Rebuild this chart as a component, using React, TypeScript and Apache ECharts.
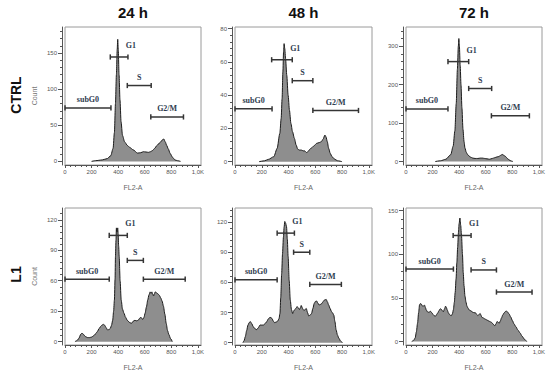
import React, { useEffect, useRef } from "react";
import * as echarts from "echarts";

// ---------- text ----------
const COLUMN_TITLES = ["24 h", "48 h", "72 h"];
const ROW_TITLES = ["CTRL", "L1"];
const X_NAME = "FL2-A";
const Y_NAME = "Count";

// ---------- x axis ----------
const X_MIN = 0;
const X_MAX = 1024;
const X_TICKS = [0, 200, 400, 600, 800, 1000];
const X_MINOR_STEP = 40;

// ---------- y axes (per panel: CTRL 24h, 48h, 72h, L1 24h, 48h, 72h) ----------
const Y_MINS = [-5, -2, -9, -3.3, -2.3, -4];
const Y_MAXS = [186, 81, 350, 131.6, 134, 153];
const Y_TICKS = [
  [0, 50, 100, 150],
  [0, 20, 40, 60, 80],
  [0, 100, 200, 300],
  [0, 30, 60, 90, 120],
  [0, 30, 60, 90, 120],
  [0, 50, 100, 150],
];
const Y_MINOR_STEPS = [10, 4, 20, 6, 6, 10];

// ---------- histograms [FL2-A, count] ----------
const ctrl24 = [[200,0],[230,1],[280,2],[320,4],[345,8],[362,18],[372,40],[380,80],[387,120],[393,155],[397,169],[401,155],[407,120],[414,85],[422,55],[433,36],[449,27],[470,22],[490,19],[513,16],[546,11.5],[570,12],[590,13.4],[610,13],[628,12.5],[645,13.5],[659,15],[675,18],[692,22],[715,26],[735,30],[744,31],[755,27],[766,22],[777,17.5],[792,11],[808,6],[828,2],[846,1],[870,0]];
const ctrl48 = [[180,0],[220,0.5],[250,1.4],[290,3],[315,8],[335,17],[345,26],[352,38],[358,54],[363,66],[367,71],[372,68],[378,62],[387,52],[397,40],[407,31],[418,23],[430,18],[444,14],[457,10],[469,7.5],[482,7],[495,7],[510,6.5],[520,6.5],[535,5.5],[545,6],[560,7.5],[575,8.5],[590,9.5],[610,11],[630,11.5],[645,12],[658,13.5],[672,16],[680,15],[690,12],[700,8],[712,5],[725,3],[745,1.5],[765,0.6],[800,0]];
const ctrl72 = [[220,0],[260,2],[300,6],[337,18],[355,40],[368,80],[378,150],[387,240],[394,300],[398,320],[402,300],[408,250],[414,200],[421,140],[429,84],[437,52],[444,35],[454,24],[464,18],[483,12],[503,9],[520,8],[541,8],[560,9],[575,9],[592,8],[610,7],[630,6],[650,8],[668,10],[685,12],[699,13],[712,16],[724,18.5],[737,16],[750,13],[763,8],[776,4.4],[790,1.5],[805,0]];
const l1_24 = [[75,0],[90,1],[103,3],[120,7.5],[128,8.5],[136,7.5],[154,5],[170,4],[185,4],[200,4.5],[218,6],[232,8],[244,10],[257,13],[269,15],[280,16.5],[290,17],[300,16],[308,14],[321,11.5],[333,12],[341,13],[350,16],[359,21],[366,30],[372,41],[377,62],[380,84],[384,100],[387,112],[391,108],[394,110],[397,112],[400,106],[404,94],[408,84],[415,60],[423,41],[433,32],[444,28],[456,24],[469,21],[485,19],[500,18],[513,20],[526,21],[540,20.5],[551,21],[562,23],[572,24],[580,22.5],[587,22],[595,24],[603,28],[613,34],[623,41],[632,46],[641,49],[648,47.5],[654,49],[660,47],[667,45],[673,47],[679,49],[690,48],[700,47],[711,45.5],[721,43],[731,40],[741,35],[752,27],[762,18],[772,11],[782,7],[795,3],[808,0]];
const l1_48 = [[59,0],[68,2],[77,6],[87,12],[97,17.6],[106,20],[115,21],[125,19],[136,16],[148,14],[162,13],[175,15],[187,17.6],[200,17.5],[213,17.6],[225,19],[238,21],[248,23.5],[259,25],[268,25],[277,24],[286,21.5],[295,20],[308,20.5],[320,21.6],[329,24],[336,29],[342,45],[349,69],[355,88],[362,105],[367,115],[372,120.6],[378,119],[385,115.6],[391,103],[397,86],[405,62],[413,42.5],[422,33],[431,29],[437,31],[444,32.6],[455,34],[464,36],[473,34.5],[482,33],[489,35],[495,37],[505,34],[515,32],[524,33],[533,34],[542,30],[551,26.6],[562,27.5],[572,29],[582,34],[592,39],[601,41],[610,41.5],[619,39.5],[628,37.5],[638,38],[649,39],[659,41],[669,42.5],[682,43],[691,40.5],[700,37.5],[711,34],[721,31],[730,29.5],[738,27.6],[747,21],[756,12.6],[766,7.5],[777,4.3],[790,1.5],[803,0]];
const l1_72 = [[43,0],[56,1],[69,4],[78,11],[87,21],[95,33],[102,42],[108,43.5],[115,43],[121,41],[128,40.5],[134,41],[140,41.6],[146,39],[153,36],[162,34],[171,33.5],[178,34],[184,34.7],[194,33],[204,31],[213,29.5],[222,29],[231,31],[240,33],[247,35],[255,37],[261,37.5],[268,36.6],[275,35],[281,34],[289,37],[298,40.5],[304,39],[311,36],[319,33],[327,31],[335,30],[342,29.7],[350,32],[357,36.6],[364,45],[370,56],[377,72],[383,90.6],[389,108],[395,125],[400,135],[406,141.5],[412,133],[418,121.5],[425,100],[431,79],[437,64],[444,52],[452,45],[459,40.5],[468,38],[477,36],[490,35],[503,33.5],[513,33],[523,33],[532,31],[541,29.7],[550,31],[559,32],[565,30],[571,27.8],[582,27],[592,26],[605,25],[617,24],[630,23],[643,22],[656,20],[668,18],[677,20],[686,23],[694,22],[702,21],[710,23.5],[719,27],[729,30.5],[740,33],[749,34.5],[758,34.7],[767,33.5],[776,31.6],[789,28],[801,24],[814,20],[827,17],[843,13],[860,9.6],[872,6.5],[885,3.9],[898,1.5],[911,0]];

// ---------- gates [name, from, to, level] ----------
const ctrl24Gates = [["subG0",0,346,74],["G1",341,474,144.5],["S",469,649,105],["G2/M",646,892,61.5]];
const ctrl48Gates = [["subG0",0,277,31.8],["G1",274,428,61.3],["S",428,582,48.7],["G2/M",582,923,30.8]];
const ctrl72Gates = [["subG0",0,316,137],["G1",316,472,260],["S",472,645,190],["G2/M",643,929,119]];
const l1_24Gates = [["subG0",0,333,61.5],["G1",333,469,104.6],["S",469,590,80],["G2/M",590,905,61.5]];
const l1_48Gates = [["subG0",0,315,62.5],["G1",315,444,109],["S",438,559,90],["G2/M",559,795,58]];
const l1_72Gates = [["subG0",0,357,83],["G1",355,490,121.5],["S",490,681,82],["G2/M",681,949,56.7]];

const HISTOGRAMS = [ctrl24, ctrl48, ctrl72, l1_24, l1_48, l1_72];
const GATES = [ctrl24Gates, ctrl48Gates, ctrl72Gates, l1_24Gates, l1_48Gates, l1_72Gates];

// ---------- layout ----------
const W = 550;
const H = 376;
const COL_LEFT = [65, 235, 406];
const COL_WIDTH = [136, 137, 136];
const ROW_TOP = [27, 208];
const ROW_HEIGHT = [138, 137];

const SANS = '"Liberation Sans", Arial, sans-serif';
const SERIF = '"Liberation Serif", "Times New Roman", serif';

function range(start: number, stop: number, step: number, exclude: number[]) {
  const out: number[] = [];
  for (let v = start; v <= stop + 1e-9; v += step) {
    const r = Math.round(v * 1000) / 1000;
    if (!exclude.some((e) => Math.abs(e - r) < 1e-6)) out.push(r);
  }
  return out;
}

function makeGateRender(gates: any[]) {
  return (params: any, api: any) => {
    const g = gates[params.dataIndex];
    const a = api.coord([api.value(0), api.value(2)]);
    const b = api.coord([api.value(1), api.value(2)]);
    const cap = 2.6;
    const isG1 = g[0] === "G1";
    const tx = isG1 ? b[0] + 3 : (a[0] + b[0]) / 2;
    const ty = a[1] - (isG1 ? 11.5 : 8);
    const ls = { stroke: "#353535", lineWidth: 1.5 };
    return {
      type: "group",
      children: [
        { type: "line", shape: { x1: a[0], y1: a[1], x2: b[0], y2: b[1] }, style: ls },
        { type: "line", shape: { x1: a[0], y1: a[1] - cap, x2: a[0], y2: a[1] + cap }, style: ls },
        { type: "line", shape: { x1: b[0], y1: b[1] - cap, x2: b[0], y2: b[1] + cap }, style: ls },
        {
          type: "text",
          style: {
            text: g[0],
            x: tx,
            y: ty,
            fill: "#2f3d4f",
            font: `bold 8px ${SERIF}`,
            textAlign: "center",
            textVerticalAlign: "middle",
            align: "center",
            verticalAlign: "middle",
          },
        },
      ],
    };
  };
}

function buildOption() {
  const grid: any[] = [];
  const xAxis: any[] = [];
  const yAxis: any[] = [];
  const series: any[] = [];
  const axisColor = "#555";
  const xMinor = range(X_MIN, 1000, X_MINOR_STEP, X_TICKS);

  for (let r = 0; r < 2; r++) {
    for (let c = 0; c < 3; c++) {
      const i = r * 3 + c;
      grid.push({
        left: COL_LEFT[c],
        top: ROW_TOP[r],
        width: COL_WIDTH[c],
        height: ROW_HEIGHT[r],
        show: true,
        borderColor: "#9a9a9a",
        borderWidth: 1,
        backgroundColor: "transparent",
      });
      xAxis.push({
        type: "value",
        gridIndex: i,
        position: "bottom",
        min: X_MIN,
        max: X_MAX,
        offset: 0,
        axisLine: { show: true, onZero: false, lineStyle: { color: axisColor, width: 1 } },
        axisTick: { show: true, length: 3, customValues: X_TICKS, lineStyle: { color: axisColor } },
        axisLabel: {
          customValues: X_TICKS,
          formatter: (v: number) => (v >= 1000 ? (v / 1000).toFixed(1).replace(".", ",") + "K" : String(v)),
          fontSize: 6,
          fontFamily: SANS,
          color: "#555",
          margin: 4,
        },
        splitLine: { show: false },
        name: X_NAME,
        nameLocation: "middle",
        nameGap: 19,
        nameTextStyle: { fontSize: 7, fontFamily: SANS, color: "#666" },
      });
      xAxis.push({
        type: "value",
        gridIndex: i,
        position: "bottom",
        min: X_MIN,
        max: X_MAX,
        offset: 0,
        axisLine: { show: false, onZero: false },
        axisTick: { show: true, length: 2, customValues: xMinor, lineStyle: { color: axisColor } },
        axisLabel: { show: false },
        splitLine: { show: false },
      });
      const yMinor = range(0, Y_MAXS[i], Y_MINOR_STEPS[i], Y_TICKS[i]);
      yAxis.push({
        type: "value",
        gridIndex: i,
        position: "left",
        min: Y_MINS[i],
        max: Y_MAXS[i],
        offset: 3,
        axisLine: { show: true, onZero: false, lineStyle: { color: axisColor, width: 1 } },
        axisTick: { show: true, length: 4, customValues: Y_TICKS[i], lineStyle: { color: axisColor } },
        axisLabel: {
          customValues: Y_TICKS[i],
          fontSize: 6,
          fontFamily: SANS,
          color: "#555",
          margin: 5,
        },
        splitLine: { show: false },
        name: c === 0 ? Y_NAME : "",
        nameLocation: "middle",
        nameGap: 24,
        nameTextStyle: { fontSize: 7, fontFamily: SANS, color: "#777" },
      });
      yAxis.push({
        type: "value",
        gridIndex: i,
        position: "left",
        min: Y_MINS[i],
        max: Y_MAXS[i],
        offset: 3,
        axisLine: { show: false, onZero: false },
        axisTick: { show: true, length: 2, customValues: yMinor, lineStyle: { color: axisColor } },
        axisLabel: { show: false },
        splitLine: { show: false },
      });

      series.push({
        type: "line",
        xAxisIndex: 2 * i,
        yAxisIndex: 2 * i,
        data: HISTOGRAMS[i],
        smooth: 0.25,
        smoothMonotone: "x",
        symbol: "none",
        lineStyle: { color: "#1c1c1c", width: 1 },
        areaStyle: { color: "#8e8e8e", opacity: 1 },
        silent: true,
        z: 2,
      });
      series.push({
        type: "custom",
        xAxisIndex: 2 * i,
        yAxisIndex: 2 * i,
        data: GATES[i].map((g: any) => ({ name: g[0], value: [g[1], g[2], g[3]] })),
        encode: { x: [0, 1], y: 2 },
        renderItem: makeGateRender(GATES[i]),
        silent: true,
        clip: false,
        z: 5,
      });
    }
  }

  const graphic: any[] = [];
  COLUMN_TITLES.forEach((t, c) => {
    graphic.push({
      type: "text",
      x: COL_LEFT[c] + COL_WIDTH[c] / 2,
      y: 12,
      style: {
        text: t,
        font: `bold 15px ${SANS}`,
        fill: "#111",
        textAlign: "center",
        textVerticalAlign: "middle",
        align: "center",
        verticalAlign: "middle",
      },
    });
  });
  ROW_TITLES.forEach((t, r) => {
    graphic.push({
      type: "text",
      x: 16,
      y: ROW_TOP[r] + ROW_HEIGHT[r] / 2 + (r === 0 ? -1 : -2),
      rotation: Math.PI / 2,
      style: {
        text: t,
        font: `bold 14px ${SANS}`,
        fill: "#111",
        textAlign: "center",
        textVerticalAlign: "middle",
        align: "center",
        verticalAlign: "middle",
      },
    });
  });

  return {
    animation: false,
    backgroundColor: "#ffffff",
    grid,
    xAxis,
    yAxis,
    series,
    graphic,
  };
}

export default function App() {
  const ref = useRef<HTMLDivElement>(null);
  useEffect(() => {
    if (!ref.current) return;
    const chart = echarts.init(ref.current, undefined, { renderer: "svg" });
    chart.setOption(buildOption() as any);
    return () => chart.dispose();
  }, []);
  return (
    <div
      ref={ref}
      style={{ position: "fixed", left: 0, top: 0, width: W, height: H, background: "#fff" }}
    />
  );
}
